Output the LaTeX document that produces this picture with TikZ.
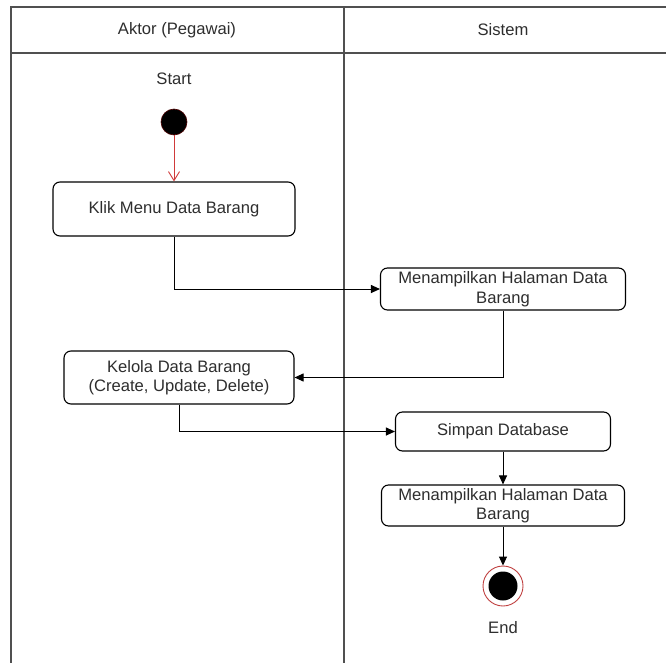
\documentclass[tikz,border=0pt]{standalone}
\usepackage{fontspec}
\setmainfont{Liberation Sans}
\usetikzlibrary{arrows.meta}
\definecolor{lanegray}{HTML}{505050}
\definecolor{txtgray}{HTML}{2E2E2E}
\definecolor{flowred}{HTML}{D03A3A}
\definecolor{ringred}{HTML}{C04040}
\begin{document}
\begin{tikzpicture}[x=1pt,y=-1pt,
  every node/.style={font=\fontsize{16.6}{19.5}\selectfont, text=txtgray},
  lane/.style={draw=lanegray, line width=1.6pt},
  action/.style={draw=black, line width=1.1pt, rounded corners=7pt, fill=white,
    align=center, inner sep=0pt},
  flow/.style={draw=black, line width=1pt, -{Triangle[length=9pt,width=8pt]}},
  startflow/.style={draw=flowred, line width=0.9pt, -{Straight Barb[length=9pt,width=11pt]}},
  initial/.style={circle, fill=black, draw=black!70!red, line width=0.6pt, minimum size=26pt, inner sep=0pt},
  finalring/.style={circle, draw=ringred, line width=0.9pt, fill=white, minimum size=40pt, inner sep=0pt},
  finaldot/.style={circle, fill=black, minimum size=29pt, inner sep=0pt}
]
\useasboundingbox (0,0) rectangle (666,663);
\fill[white] (0,0) rectangle (666,663);

% swimlanes
\draw[lane] (666,7) -- (11,7) -- (11,663);
\draw[lane] (11,53) -- (666,53);
\draw[lane] (344,7) -- (344,663);
\node (laneA) at (177,30) {Aktor (Pegawai)};
\node (laneS) at (503,30) {Sistem};

% initial state
\node (startlbl) at (174,79) {Start};
\node[initial] (start) at (174,122) {};

% actions
\node[action, minimum width=242pt, minimum height=54pt] (klik) at (174,209) {Klik Menu Data Barang};
\node[action, minimum width=245pt, minimum height=42pt] (tampil1) at (503,289) {Menampilkan Halaman Data\\Barang};
\node[action, minimum width=230pt, minimum height=53pt] (kelola) at (179,377.5) {Kelola Data Barang\\(Create, Update, Delete)};
\node[action, minimum width=215pt, minimum height=39pt] (simpan) at (503,431.5) {Simpan Database};
\node[action, minimum width=243pt, minimum height=41pt] (tampil2) at (503,505.5) {Menampilkan Halaman Data\\Barang};

% final state
\node[finalring] (final) at (503,586) {};
\node[finaldot] (finaldot) at (final.center) {};
\node (endlbl) at (503,628) {End};

% control flow
\draw[startflow] (start) -- (klik);
\draw[flow] (klik.south) |- (tampil1.west);
\draw[flow] (tampil1.south) |- (kelola.east);
\draw[flow] (kelola.south) |- (simpan.west);
\draw[flow] (simpan) -- (tampil2);
\draw[flow] (tampil2) -- (final);
\end{tikzpicture}
\end{document}
